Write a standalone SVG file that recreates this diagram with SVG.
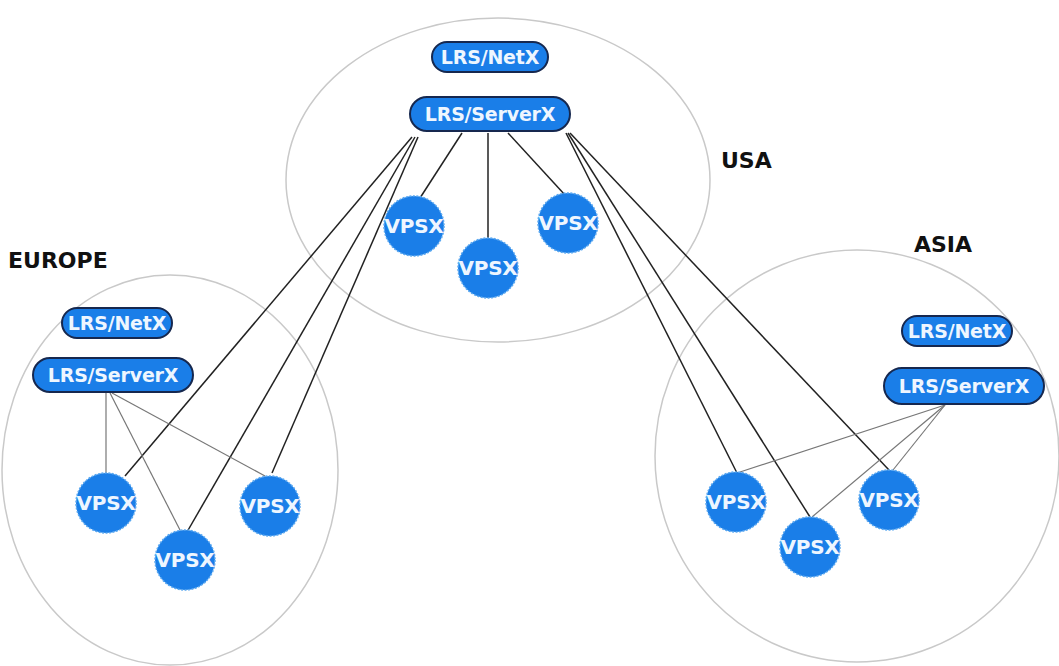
<svg xmlns="http://www.w3.org/2000/svg" width="1059" height="666" viewBox="0 0 1059 666">
<style>
.region{fill:none;stroke:#c9c9c9;stroke-width:1.5}
.pill{fill:#1a7ee8;stroke:#16284f;stroke-width:2}
.pt{fill:#eef6ff;font-family:"DejaVu Sans",sans-serif;font-weight:bold;font-size:19px;text-anchor:middle;letter-spacing:-0.2px}
.vp{fill:#1a7ee8;stroke:#5aa8f0;stroke-width:1.5;stroke-dasharray:2 1.5}
.vt{fill:#eef6ff;font-family:"DejaVu Sans",sans-serif;font-weight:bold;font-size:20px;text-anchor:middle;letter-spacing:-0.3px}
.lbl{fill:#111;font-family:"DejaVu Sans",sans-serif;font-weight:bold;font-size:22px}
.wan{stroke:#222;stroke-width:1.5;fill:none}
.lan{stroke:#777;stroke-width:1.2;fill:none}
</style>
<rect width="1059" height="666" fill="#fff"/>
<g id="regions">
<ellipse class="region" cx="498" cy="180" rx="212" ry="162"/>
<ellipse class="region" cx="170" cy="470" rx="168" ry="195"/>
<ellipse class="region" cx="857" cy="456" rx="202" ry="206"/>
<text class="lbl" x="721" y="168">USA</text>
<text class="lbl" x="8" y="268" font-size="23">EUROPE</text>
<text class="lbl" x="914" y="252">ASIA</text>
</g>
<g id="connectors">
<line class="wan" x1="412" y1="137" x2="125" y2="476"/>
<line class="wan" x1="415" y1="137" x2="187" y2="532"/>
<line class="wan" x1="418" y1="137" x2="272" y2="473"/>
<line class="wan" x1="462" y1="133" x2="420" y2="198"/>
<line class="wan" x1="488" y1="133" x2="488" y2="238"/>
<line class="wan" x1="508" y1="133" x2="565" y2="195"/>
<line class="wan" x1="566" y1="133" x2="737" y2="473"/>
<line class="wan" x1="568" y1="133" x2="810" y2="517"/>
<line class="wan" x1="570" y1="133" x2="889" y2="470"/>
<line class="lan" x1="106" y1="393" x2="106" y2="473"/>
<line class="lan" x1="110" y1="393" x2="180" y2="530"/>
<line class="lan" x1="112" y1="393" x2="265" y2="476"/>
<line class="lan" x1="945" y1="405" x2="740" y2="472"/>
<line class="lan" x1="945" y1="405" x2="812" y2="517"/>
<line class="lan" x1="945" y1="405" x2="893" y2="470"/>
</g>
<g id="usa-netx"><rect class="pill" x="432" y="42" width="116" height="30" rx="15"/><text class="pt" x="490" y="64">LRS/NetX</text></g>
<g id="usa-serverx"><rect class="pill" x="410" y="97" width="160" height="34" rx="17"/><text class="pt" x="490" y="121">LRS/ServerX</text></g>
<g id="usa-vpsx1"><circle class="vp" cx="414" cy="226" r="30"/><text class="vt" x="414" y="233">VPSX</text></g>
<g id="usa-vpsx2"><circle class="vp" cx="488" cy="268" r="30"/><text class="vt" x="488" y="275">VPSX</text></g>
<g id="usa-vpsx3"><circle class="vp" cx="568" cy="223" r="30"/><text class="vt" x="568" y="230">VPSX</text></g>
<g id="eu-netx"><rect class="pill" x="62" y="308" width="110" height="30" rx="15"/><text class="pt" x="117" y="330">LRS/NetX</text></g>
<g id="eu-serverx"><rect class="pill" x="33" y="358" width="160" height="34" rx="17"/><text class="pt" x="113" y="382">LRS/ServerX</text></g>
<g id="eu-vpsx1"><circle class="vp" cx="106" cy="503" r="30"/><text class="vt" x="106" y="510">VPSX</text></g>
<g id="eu-vpsx2"><circle class="vp" cx="185" cy="560" r="30"/><text class="vt" x="185" y="567">VPSX</text></g>
<g id="eu-vpsx3"><circle class="vp" cx="270" cy="506" r="30"/><text class="vt" x="270" y="513">VPSX</text></g>
<g id="asia-netx"><rect class="pill" x="902" y="316" width="110" height="30" rx="15"/><text class="pt" x="957" y="338">LRS/NetX</text></g>
<g id="asia-serverx"><rect class="pill" x="884" y="368" width="160" height="36" rx="18"/><text class="pt" x="964" y="393">LRS/ServerX</text></g>
<g id="asia-vpsx1"><circle class="vp" cx="736" cy="502" r="30"/><text class="vt" x="736" y="509">VPSX</text></g>
<g id="asia-vpsx2"><circle class="vp" cx="810" cy="547" r="30"/><text class="vt" x="810" y="554">VPSX</text></g>
<g id="asia-vpsx3"><circle class="vp" cx="889" cy="500" r="30"/><text class="vt" x="889" y="507">VPSX</text></g>
</svg>
